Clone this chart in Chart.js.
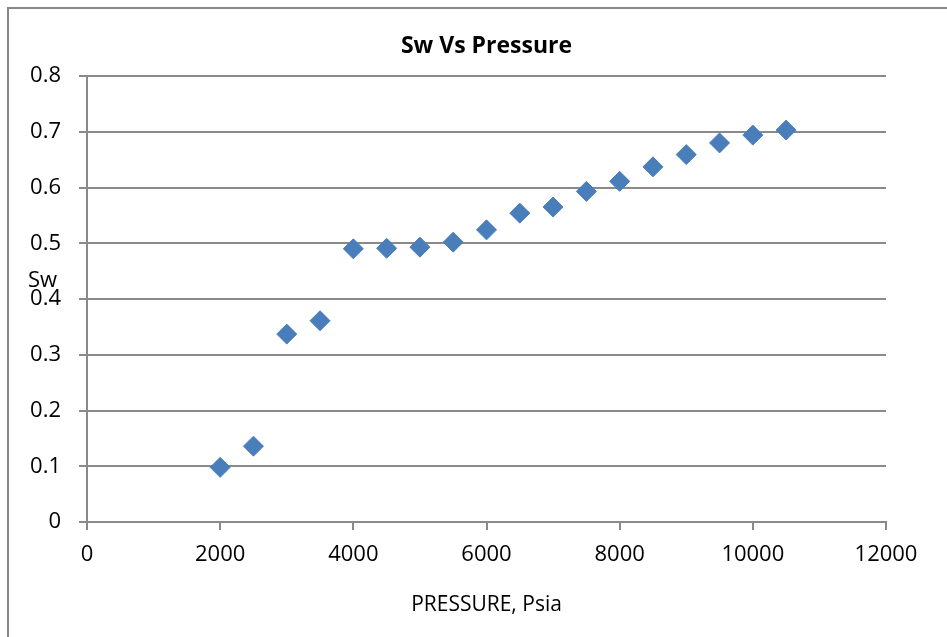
<!DOCTYPE html>
<html>
<head>
<meta charset="utf-8">
<script src="https://cdn.jsdelivr.net/npm/chart.js@4/dist/chart.umd.min.js"></script>
<style>
  body { margin: 0; background: #fff; }
  #wrap { position: relative; width: 947px; height: 637px; overflow: hidden; }
  #frame { position: absolute; left: 7px; top: 7px; width: 1000px; height: 700px;
           border-left: 2px solid #878787; border-top: 2px solid #878787; }
  canvas { position: absolute; left: 0; top: 0; }
</style>
</head>
<body>
<div id="wrap">
  <div id="frame"></div>
  <canvas id="chart" width="947" height="637"></canvas>
</div>
<script>
// Sw vs pressure readings
const pressure = [2000, 2500, 3000, 3500, 4000, 4500, 5000, 5500, 6000, 6500,
                  7000, 7500, 8000, 8500, 9000, 9500, 10000, 10500];
const sw = [0.098, 0.136, 0.337, 0.361, 0.490, 0.491, 0.493, 0.502, 0.524, 0.554,
            0.565, 0.593, 0.611, 0.637, 0.659, 0.680, 0.694, 0.703];

const xTicks = [0, 2000, 4000, 6000, 8000, 10000, 12000];
const yTicks = [0, 0.1, 0.2, 0.3, 0.4, 0.5, 0.6, 0.7, 0.8];

const points = pressure.map((p, i) => ({ x: p, y: sw[i] }));

const fontFam = "'Open Sans', 'Noto Sans', sans-serif";
const gridCol = '#8a8a8a';

// horizontal "Sw" label like the excel one
const swLabel = {
    id: 'swLabel',
    afterDraw(chart) {
        const ctx = chart.ctx;
        const y = chart.scales.y;
        ctx.save();
        ctx.font = "22px " + fontFam;
        ctx.fillStyle = '#000';
        ctx.textAlign = 'left';
        ctx.textBaseline = 'middle';
        ctx.fillText('Sw', 28, y.getPixelForValue(0.432));
        ctx.restore();
    }
};

new Chart(document.getElementById('chart'), {
    type: 'scatter',
    data: {
        datasets: [{
            label: 'Sw',
            data: points,
            pointStyle: 'rectRot',
            pointRadius: 10,
            pointHoverRadius: 10,
            backgroundColor: '#4a7ebb',
            borderColor: '#4a7ebb',
            borderWidth: 1
        }]
    },
    options: {
        responsive: false,
        animation: false,
        layout: { padding: { left: 0, right: 61, top: 0, bottom: 0 } },
        plugins: {
            legend: { display: false },
            tooltip: { enabled: false },
            title: {
                display: true,
                fullSize: false, // centre over the plot, not the canvas
                text: 'Sw Vs Pressure',
                color: '#000',
                font: { family: fontFam, size: 23, weight: 'bold' },
                padding: { top: 33, bottom: 15.4 }
            }
        },
        scales: {
            x: {
                type: 'linear',
                min: 0,
                max: 12000,
                afterBuildTicks: s => { s.ticks = xTicks.map(v => ({ value: v })); },
                afterFit: s => { s.height = 115; },
                grid: { display: true, drawOnChartArea: false, color: gridCol, lineWidth: 2, tickLength: 8 },
                border: { color: gridCol, width: 2 },
                ticks: {
                    color: '#000',
                    font: { family: fontFam, size: 22 },
                    padding: 12,
                    maxRotation: 0,
                    callback: v => String(v)
                },
                title: {
                    display: true,
                    text: 'PRESSURE, Psia',
                    color: '#000',
                    font: { family: fontFam, size: 21 },
                    padding: { top: 4, bottom: 19 }
                }
            },
            y: {
                min: 0,
                max: 0.8,
                afterBuildTicks: s => { s.ticks = yTicks.map(v => ({ value: v })); },
                afterFit: s => { s.width = 87; },
                grid: { color: gridCol, lineWidth: 2, tickLength: 8 },
                border: { color: gridCol, width: 2 },
                ticks: {
                    color: '#000',
                    font: { family: fontFam, size: 22 },
                    padding: 18,
                    callback: v => String(Math.round(v * 10) / 10)
                }
            }
        }
    },
    plugins: [swLabel]
});
</script>
</body>
</html>
